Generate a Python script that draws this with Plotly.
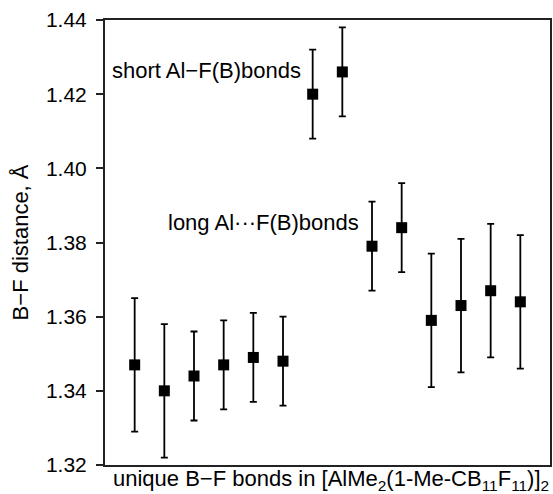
import plotly.graph_objects as go

bond_index = list(range(1, 15))
bf_distance = [1.347, 1.340, 1.344, 1.347, 1.349, 1.348, 1.420, 1.426,
               1.379, 1.384, 1.359, 1.363, 1.367, 1.364]
bf_error = [0.018, 0.018, 0.012, 0.012, 0.012, 0.012, 0.012, 0.012,
            0.012, 0.012, 0.018, 0.018, 0.018, 0.018]
y_ticks = [1.32, 1.34, 1.36, 1.38, 1.40, 1.42, 1.44]
y_tick_labels = ["1.32", "1.34", "1.36", "1.38", "1.40", "1.42", "1.44"]

FONT = "Liberation Sans, Arial, sans-serif"

fig = go.Figure()
fig.add_trace(go.Scatter(
    x=bond_index, y=bf_distance, mode="markers",
    marker=dict(symbol="square", size=11, color="black"),
    error_y=dict(type="data", array=bf_error, visible=True,
                 color="black", thickness=1.8, width=3.5),
    showlegend=False,
))

fig.add_annotation(x=6.67, y=1.4265, xref="x", yref="y",
                   text="short Al−F(B)bonds", showarrow=False,
                   xanchor="right", yanchor="middle",
                   font=dict(family=FONT, size=22, color="black"))
fig.add_annotation(x=8.62, y=1.3853, xref="x", yref="y",
                   text="long Al···F(B)bonds", showarrow=False,
                   xanchor="right", yanchor="middle",
                   font=dict(family=FONT, size=22, color="black"))

# axis titles
fig.add_annotation(x=1.002, y=-0.034, xref="paper", yref="paper",
                   text="unique B−F bonds in [AlMe<sub>2</sub>(1-Me-CB<sub>11</sub>F<sub>11</sub>)]<sub>2</sub>",
                   showarrow=False, xanchor="right", yanchor="middle",
                   font=dict(family=FONT, size=22, color="black"))
fig.add_annotation(x=-0.189, y=0.5, xref="paper", yref="paper",
                   text="B−F distance, Å", textangle=-90,
                   showarrow=False, xanchor="center", yanchor="middle",
                   font=dict(family=FONT, size=22, color="black"))

fig.update_layout(
    width=553, height=494,
    margin=dict(l=105, r=3, t=20, b=29),
    paper_bgcolor="white", plot_bgcolor="white",
    font=dict(family=FONT, size=20, color="black"),
    xaxis=dict(range=[0, 15], showticklabels=False, ticks="",
               showgrid=False, zeroline=False, automargin=False,
               showline=True, linecolor="#222", linewidth=2, mirror=True),
    yaxis=dict(range=[1.32, 1.44], tickvals=y_ticks, ticktext=y_tick_labels,
               ticks="outside", ticklen=7, tickwidth=2, tickcolor="#222",
               ticklabelstandoff=5,
               tickfont=dict(family=FONT, size=21, color="black"),
               showgrid=False, zeroline=False, automargin=False,
               showline=True, linecolor="#222", linewidth=2, mirror=True),
)

fig.write_html("out.html", config={"displayModeBar": False},
               post_script="document.body.style.margin='0';document.body.style.overflow='hidden';")
